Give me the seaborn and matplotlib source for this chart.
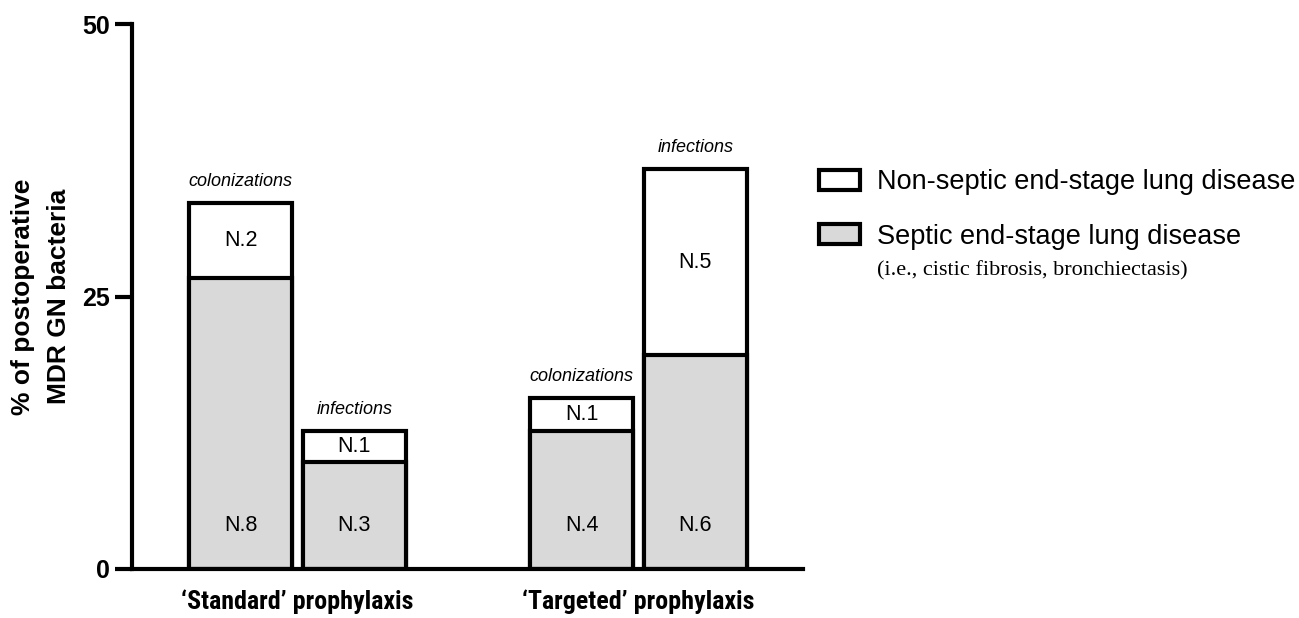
import matplotlib as mpl
mpl.use('Agg')
import matplotlib.pyplot as plt
import seaborn as sns
import pandas as pd
from matplotlib.patches import Patch
from matplotlib import font_manager

# values (% of postoperative MDR GN bacteria)
bars = ["std_col", "std_inf", "tgt_col", "tgt_inf"]
kinds = ["colonizations", "infections", "colonizations", "infections"]
septic = [26.7, 9.8, 12.7, 19.6]
total = [33.6, 12.7, 15.7, 36.7]
n_septic = ["N.8", "N.3", "N.4", "N.6"]
n_nonseptic = ["N.2", "N.1", "N.1", "N.5"]
groups = ["\u2018Standard\u2019 prophylaxis", "\u2018Targeted\u2019 prophylaxis"]
legend_labels = ["Non-septic end-stage lung disease", "Septic end-stage lung disease"]
legend_note = "(i.e., cistic fibrosis, bronchiectasis)"

df = pd.DataFrame({"bar": bars, "kind": kinds, "septic": septic, "total": total})
order = ["std_col", "std_inf", "gap", "tgt_col", "tgt_inf"]

sns.set_style("ticks")
plt.rcParams['font.family'] = ['Liberation Sans', 'DejaVu Sans']
for key in ['text.color', 'axes.labelcolor', 'xtick.color', 'ytick.color', 'axes.edgecolor']:
    plt.rcParams[key] = 'black'

# condensed face for the group labels if there is one
names = {f.name for f in font_manager.fontManager.ttflist}
if 'Roboto Condensed' in names:
    group_font, group_size = ['Roboto Condensed', 'Liberation Sans'], 18.7
elif 'Liberation Sans Narrow' in names:
    group_font, group_size = ['Liberation Sans Narrow', 'Liberation Sans'], 19
else:
    group_font, group_size = ['Liberation Sans'], 16

GREY = "#d9d9d9"
LW = 3.0

fig = plt.figure(figsize=(12.99, 6.18), dpi=100)
ax = fig.add_axes([0.1016, 0.0793, 0.5166, 0.8817])

sns.barplot(data=df, x="bar", y="total", order=order, color="white", saturation=1,
            width=0.905, edgecolor="black", linewidth=LW, ax=ax)
sns.barplot(data=df, x="bar", y="septic", order=order, color=GREY, saturation=1,
            width=0.905, edgecolor="black", linewidth=LW, ax=ax)

pos = {b: order.index(b) for b in bars}
for b, k, s, t, ns, nn in zip(bars, kinds, septic, total, n_septic, n_nonseptic):
    x = pos[b]
    ax.text(x, 4.0, ns, ha="center", va="center", fontsize=15.5)
    ax.text(x, (s + t) / 2, nn, ha="center", va="center", fontsize=15.5)
    ax.text(x, t + 1.2, k, ha="center", va="bottom", fontsize=13, style="italic")

ax.set_ylim(0, 50)
ax.set_xlim(-0.956, 4.947)
ax.set_yticks([0, 25, 50])
ax.set_xticks([0.5, 3.5])
ax.set_xticklabels(groups, fontsize=group_size, fontweight="bold", family=group_font)
ax.tick_params(axis="x", length=0, pad=15)
ax.tick_params(axis="y", length=12, width=LW, labelsize=18, pad=4)
for lab in ax.get_yticklabels():
    lab.set_fontweight("bold")
ax.set_xlabel("")
ax.set_ylabel("% of postoperative\nMDR GN bacteria", fontsize=19, fontweight="bold",
              labelpad=8, linespacing=1.6)
sns.despine(ax=ax)
for side in ["left", "bottom"]:
    ax.spines[side].set_linewidth(LW)

handles = [Patch(facecolor="white", edgecolor="black", linewidth=LW),
           Patch(facecolor=GREY, edgecolor="black", linewidth=LW)]
fig.legend(handles=handles, labels=legend_labels, loc="upper left",
           bbox_to_anchor=(0.616, 0.757), frameon=False, fontsize=19.5,
           handlelength=1.5, handleheight=0.75, handletextpad=0.65, labelspacing=1.05,
           borderaxespad=0.3)
fig.text(0.675, 0.562, legend_note, fontsize=16, family=["Liberation Serif"],
         va="center", ha="left")

fig.savefig("out.png", dpi=100, facecolor="white")
